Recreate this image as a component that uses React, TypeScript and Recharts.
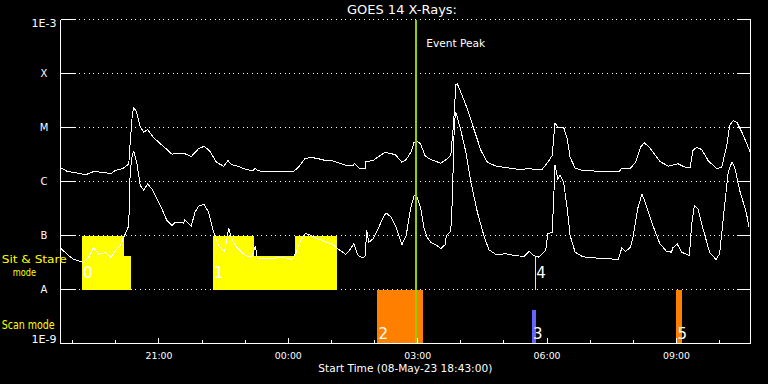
import React from "react";
import { ComposedChart, Line, XAxis, YAxis, CartesianGrid, ReferenceArea, ReferenceLine } from "recharts";

// GOES 14 X-ray flux, time in minutes after 08-May-23 18:43, flux in W/m^2
const START_MIN = 18 * 60 + 43;

const longChannel: [number, number][] = [
    [0, 1.8e-6], [9, 1.55e-6], [21, 1.45e-6], [35, 1.33e-6], [46, 1.53e-6], [56, 1.49e-6], [63, 1.45e-6],
    [70, 1.39e-6], [76, 1.6e-6], [86, 1.72e-6], [95, 2.09e-6], [97, 5.35e-6], [100, 1.79e-5], [102, 2.32e-5],
    [106, 1.92e-5], [111, 1.01e-5], [116, 8.18e-6], [121, 9.18e-6], [129, 6.61e-6], [139, 4.99e-6],
    [148, 3.92e-6], [155, 3.21e-6], [164, 3.3e-6], [173, 3.27e-6], [182, 2.9e-6], [192, 4.04e-6],
    [200, 4.51e-6], [208, 3.6e-6], [217, 2.27e-6], [227, 1.92e-6], [233, 2.45e-6], [238, 2.04e-6],
    [247, 1.92e-6], [259, 1.65e-6], [268, 1.6e-6], [271, 1.76e-6], [275, 1.58e-6], [289, 1.51e-6],
    [303, 1.55e-6], [324, 1.51e-6], [330, 1.8e-6], [333, 1.98e-6], [340, 2.63e-6], [347, 2.78e-6],
    [356, 2.7e-6], [367, 2.48e-6], [377, 2.45e-6], [386, 2.22e-6], [398, 1.98e-6], [407, 1.98e-6],
    [409, 2.13e-6], [416, 1.76e-6], [424, 1.72e-6], [425, 2.34e-6], [435, 2.45e-6], [442, 2.86e-6],
    [451, 3.44e-6], [458, 3.34e-6], [466, 3.12e-6], [475, 2.27e-6], [481, 2.55e-6], [488, 3.6e-6],
    [492, 5.35e-6], [496, 5.57e-6], [501, 4.99e-6], [507, 3.03e-6], [513, 2.63e-6], [520, 2.42e-6],
    [529, 2.18e-6], [538, 2.63e-6], [543, 3.03e-6], [547, 1.25e-5], [550, 6.18e-5], [552, 6.44e-5],
    [557, 4.51e-5], [566, 2.22e-5], [575, 9.46e-6], [585, 3.75e-6], [594, 2.27e-6], [606, 1.92e-6],
    [622, 1.8e-6], [640, 1.65e-6], [653, 1.76e-6], [658, 1.65e-6], [670, 1.67e-6], [678, 2.27e-6],
    [684, 3.03e-6], [688, 1.2e-5], [692, 1.01e-5], [700, 1.01e-5], [705, 6.18e-6], [709, 2.82e-6],
    [716, 1.76e-6], [726, 1.6e-6], [749, 1.55e-6], [777, 1.51e-6], [781, 1.76e-6], [793, 1.76e-6],
    [800, 2.27e-6], [807, 4.31e-6], [812, 5.21e-6], [818, 4.51e-6], [825, 3.4e-6], [834, 2.34e-6],
    [846, 1.92e-6], [859, 2.13e-6], [869, 1.84e-6], [876, 1.84e-6], [880, 3.75e-6], [885, 4.31e-6],
    [892, 3.92e-6], [901, 2.45e-6], [913, 1.72e-6], [920, 1.84e-6], [927, 4.64e-6], [931, 1.09e-5],
    [936, 1.35e-5], [941, 1.25e-5], [948, 8.18e-6], [955, 4.99e-6], [959, 3.6e-6],
];

const shortChannel: [number, number][] = [
    [0, 5.9e-8], [9, 4.51e-8], [18, 3.64e-8], [25, 3.4e-8], [32, 3.16e-8], [39, 3.92e-8], [46, 6.0e-8],
    [53, 4.51e-8], [63, 4.84e-8], [70, 3.92e-8], [76, 5.21e-8], [83, 6.44e-8], [89, 9.86e-8], [95, 1.51e-7],
    [96, 6.25e-7], [97, 1.49e-6], [100, 3.26e-6], [102, 3.6e-6], [106, 2.27e-6], [111, 8.43e-7],
    [116, 6.81e-7], [121, 9.06e-7], [127, 7.33e-7], [134, 4.79e-7], [141, 3.12e-7], [148, 1.9e-7],
    [155, 1.53e-7], [160, 1.76e-7], [166, 1.76e-7], [171, 1.69e-7], [173, 1.95e-7], [182, 1.49e-7],
    [187, 2.7e-7], [193, 3.6e-7], [200, 3.75e-7], [206, 2.7e-7], [213, 1.15e-7], [220, 6.53e-8],
    [228, 5.06e-8], [231, 7.52e-8], [234, 1.39e-7], [238, 8.69e-8], [245, 6.06e-8], [257, 4.27e-8],
    [266, 3.96e-8], [271, 6.34e-8], [274, 3.8e-8], [289, 3.7e-8], [308, 3.96e-8], [322, 3.6e-8],
    [328, 4.91e-8], [334, 8.07e-8], [341, 1.09e-7], [347, 1.03e-7], [356, 8.91e-8], [370, 7.52e-8],
    [377, 7.02e-8], [386, 5.68e-8], [397, 4.45e-8], [402, 5.27e-8], [408, 7.02e-8], [414, 4.27e-8],
    [421, 3.86e-8], [424, 4.27e-8], [426, 1.24e-7], [429, 7.52e-8], [435, 8.69e-8], [442, 1.33e-7],
    [448, 2.04e-7], [453, 2.63e-7], [460, 2.18e-7], [467, 1.43e-7], [475, 6.73e-8], [481, 1.0e-7],
    [487, 3.12e-7], [492, 5.51e-7], [496, 5.12e-7], [501, 3.34e-7], [506, 1.33e-7], [510, 9.31e-8],
    [515, 7.52e-8], [524, 6.53e-8], [529, 5.68e-8], [535, 6.73e-8], [537, 1.0e-7], [542, 1.15e-7],
    [544, 1.76e-7], [546, 1.29e-6], [548, 1.25e-5], [550, 1.92e-5], [552, 1.55e-5], [557, 8.79e-6],
    [564, 3.49e-6], [571, 9.7e-7], [580, 2.7e-7], [589, 1.0e-7], [596, 5.43e-8], [606, 4.45e-8],
    [620, 4.58e-8], [631, 4.27e-8], [645, 4.09e-8], [652, 5.12e-8], [658, 4.27e-8], [665, 3.96e-8],
    [675, 5.27e-8], [678, 1.07e-7], [684, 1.15e-7], [686, 4.14e-7], [688, 1.98e-6], [692, 1.12e-6],
    [695, 1.29e-6], [700, 9.7e-7], [705, 3.12e-7], [709, 1.0e-7], [716, 4.91e-8], [726, 4.09e-8],
    [737, 3.86e-8], [753, 3.8e-8], [776, 3.6e-8], [781, 5.92e-8], [786, 5.06e-8], [793, 6.06e-8],
    [797, 1.0e-7], [803, 3.12e-7], [809, 5.92e-7], [815, 3.6e-7], [825, 1.43e-7], [834, 7.02e-8],
    [843, 5.12e-8], [850, 4.91e-8], [852, 5.92e-8], [858, 7.02e-8], [864, 4.91e-8], [875, 4.27e-8],
    [878, 1.53e-7], [882, 3.6e-7], [887, 3.12e-7], [894, 1.33e-7], [903, 4.91e-8], [912, 3.6e-8],
    [917, 4.58e-8], [924, 3.6e-7], [929, 1.49e-6], [934, 2.27e-6], [938, 1.84e-6], [945, 6.81e-7],
    [954, 2.7e-7], [958, 1.43e-7],
];

// sit & stare windows (yellow), the narrow ones are partial pointings
const stareStart = [30, 88, 212, 269, 326, 660.5];
const stareEnd = [88, 98, 269, 326, 384, 662];
const stareTop = [1e-7, 4.1e-8, 1e-7, 4.1e-8, 1e-7, 4.1e-8];
const stareLabel = ["0", "", "1", "", "", "4"];

// scan mode windows
const scanStart = [441, 656, 857];
const scanEnd = [504.5, 662, 864];
const scanTop = [1e-8, 4.1e-9, 1e-8];
const scanFill = ["#FF8000", "#6464FF", "#FF8000"];
const scanLabel = ["2", "3", "5"];

const eventPeak = 495;

const hourTicks = [17, 77, 137, 197, 257, 317, 377, 437, 497, 557, 617, 677, 737, 797, 857, 917];
const labelledTicks = [137, 317, 497, 677, 857];
const fluxTicks = [1e-9, 1e-8, 1e-7, 1e-6, 1e-5, 1e-4, 1e-3];
const fluxLabels = ["1E-9", "A", "B", "C", "M", "X", "1E-3"];

const FONT = "'DejaVu Sans', sans-serif";
const PLOT_TOP = 19.5;
const PLOT_BOTTOM = 343.5;
const PLOT_LEFT = 60.5;
const PLOT_RIGHT = 750.5;

const clock = (m: number) => {
    const t = (START_MIN + m) % 1440;
    const hh = Math.floor(t / 60);
    const mm = Math.round(t % 60);
    return `${String(hh).padStart(2, "0")}:${String(mm).padStart(2, "0")}`;
};

function BottomTick(props: any) {
    const { x, payload } = props;
    const major = labelledTicks.includes(payload.value);
    return (
        <g>
            <line x1={x} x2={x} y1={PLOT_BOTTOM} y2={PLOT_BOTTOM - (major ? 6 : 3.5)} stroke="#fff" />
            {major && (
                <text x={x} y={359} textAnchor="middle" fill="#fff" fontSize={9.5} fontFamily={FONT}
                    textLength={27} lengthAdjust="spacingAndGlyphs">
                    {clock(payload.value)}
                </text>
            )}
        </g>
    );
}

function TopTick(props: any) {
    const { x, payload } = props;
    const major = labelledTicks.includes(payload.value);
    return <line x1={x} x2={x} y1={PLOT_TOP} y2={PLOT_TOP + (major ? 6 : 3.5)} stroke="#fff" />;
}

function LeftTick(props: any) {
    const { y, payload } = props;
    const i = Math.round(Math.log10(payload.value)) + 9;
    const label = fluxLabels[i];
    // end labels are kept inside the plot box
    const shift = i === 0 ? -4 : i === fluxTicks.length - 1 ? 4 : 0;
    return (
        <g>
            <line x1={PLOT_LEFT} x2={PLOT_LEFT + 14} y1={y} y2={y} stroke="#fff" />
            <text x={44} y={y + shift + 3.6} textAnchor="middle" fill="#fff" fontSize={10} fontFamily={FONT}
                textLength={label.length > 1 ? 25 : undefined} lengthAdjust="spacingAndGlyphs">
                {label}
            </text>
        </g>
    );
}

function RightTick(props: any) {
    const { y } = props;
    return <line x1={PLOT_RIGHT - 14} x2={PLOT_RIGHT} y1={y} y2={y} stroke="#fff" />;
}

function BlockLabel(props: any) {
    const { viewBox, text, baseline } = props;
    if (!text || !viewBox) return null;
    return (
        <text x={viewBox.x + 1} y={baseline} fill="#fff" fontSize={15} fontFamily={FONT}>
            {text}
        </text>
    );
}

function PeakLabel(props: any) {
    const { viewBox } = props;
    if (!viewBox) return null;
    return (
        <text x={viewBox.x + 10} y={viewBox.y + 27.2} fill="#fff" fontSize={11} fontFamily={FONT}
            textLength={59} lengthAdjust="spacingAndGlyphs">
            Event Peak
        </text>
    );
}

export default function App() {
    const longData = longChannel.map(([t, f]) => ({ t, f }));
    const shortData = shortChannel.map(([t, f]) => ({ t, f }));

    return (
        <div className="goes" style={{ position: "absolute", left: 0, top: 0, width: 768, height: 384, background: "#000", overflow: "hidden" }}>
            <style>{".goes svg path, .goes svg line, .goes svg rect { shape-rendering: crispEdges; }"}</style>
            <ComposedChart width={768} height={384} margin={{ top: PLOT_TOP, right: 0, bottom: 0, left: 0.5 }}>
                <CartesianGrid xAxisId="bottom" yAxisId="left" vertical={false} stroke="#fff" strokeDasharray="1 3.67" />
                <XAxis xAxisId="bottom" dataKey="t" type="number" domain={[0, 960]} ticks={hourTicks} interval={0}
                    height={40.5} allowDataOverflow axisLine={{ stroke: "#fff" }} tickLine={false} tick={<BottomTick />} />
                <XAxis xAxisId="top" orientation="top" dataKey="t" type="number" domain={[0, 960]} ticks={hourTicks}
                    interval={0} height={0} allowDataOverflow axisLine={{ stroke: "#fff" }} tickLine={false} tick={<TopTick />} />
                <YAxis yAxisId="left" type="number" scale="log" domain={[1e-9, 1e-3]} ticks={fluxTicks} interval={0}
                    width={60} allowDataOverflow axisLine={{ stroke: "#fff" }} tickLine={false} tick={<LeftTick />} />
                <YAxis yAxisId="right" orientation="right" type="number" scale="log" domain={[1e-9, 1e-3]} ticks={fluxTicks}
                    interval={0} width={17.5} allowDataOverflow axisLine={{ stroke: "#fff" }} tickLine={false} tick={<RightTick />} />

                {stareStart.map((s, i) => (
                    <ReferenceArea key={`stare-${i}`} xAxisId="bottom" yAxisId="left" x1={s} x2={stareEnd[i]} y1={1e-8} y2={stareTop[i]}
                        fill="#FFFF00" fillOpacity={1} stroke="none" ifOverflow="visible"
                        label={<BlockLabel text={stareLabel[i]} baseline={277.5} />} />
                ))}
                {scanStart.map((s, i) => (
                    <ReferenceArea key={`scan-${i}`} xAxisId="bottom" yAxisId="left" x1={s} x2={scanEnd[i]} y1={1e-9} y2={scanTop[i]}
                        fill={scanFill[i]} fillOpacity={1} stroke="none" ifOverflow="visible"
                        label={<BlockLabel text={scanLabel[i]} baseline={339.3} />} />
                ))}

                <Line xAxisId="bottom" yAxisId="left" data={longData} dataKey="f" type="linear" stroke="#fff" strokeWidth={1}
                    dot={false} activeDot={false} isAnimationActive={false} />
                <Line xAxisId="bottom" yAxisId="left" data={shortData} dataKey="f" type="linear" stroke="#fff" strokeWidth={1}
                    dot={false} activeDot={false} isAnimationActive={false} />

                <ReferenceLine xAxisId="bottom" yAxisId="left" x={eventPeak} stroke="#99CC00" strokeWidth={2} label={<PeakLabel />} />
            </ComposedChart>

            <svg width={768} height={384} style={{ position: "absolute", left: 0, top: 0, pointerEvents: "none" }}>
                <text x={402} y={14} textAnchor="middle" fill="#fff" fontSize={12.5} fontFamily={FONT} textLength={110} lengthAdjust="spacingAndGlyphs">
                    GOES 14 X-Rays:
                </text>
                <text x={1.7} y={262.5} fill="#FFFF00" fontSize={11} fontFamily={FONT} textLength={65} lengthAdjust="spacingAndGlyphs">
                    Sit &amp; Stare
                </text>
                <text x={12.7} y={275.5} fill="#FFFF00" fontSize={10.5} fontFamily={FONT} textLength={23.3} lengthAdjust="spacingAndGlyphs">
                    mode
                </text>
                <text x={1.7} y={328.7} fill="#FFFF00" fontSize={12} fontFamily={FONT} textLength={53} lengthAdjust="spacingAndGlyphs">
                    Scan mode
                </text>
                <text x={318.3} y={372} fill="#fff" fontSize={11} fontFamily={FONT} textLength={174} lengthAdjust="spacingAndGlyphs">
                    Start Time (08-May-23 18:43:00)
                </text>
            </svg>
        </div>
    );
}
